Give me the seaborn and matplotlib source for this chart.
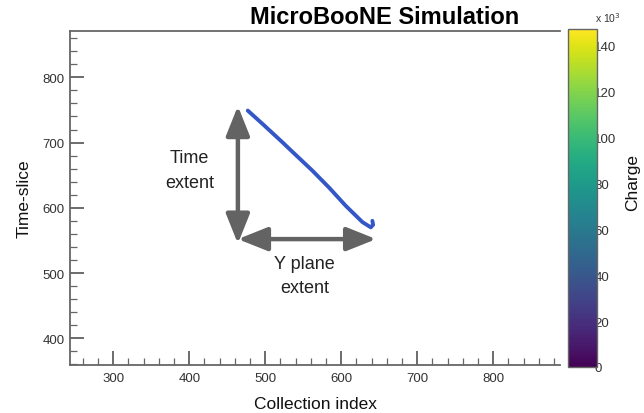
import numpy as np
import pandas as pd
import matplotlib
matplotlib.use("Agg")
import matplotlib.pyplot as plt
import seaborn as sns
from matplotlib.colors import Normalize
from matplotlib.colorbar import ColorbarBase
from matplotlib.ticker import MultipleLocator

# ---- data ----
track_x = [477, 497, 523, 532, 562, 584, 606, 628, 639, 642, 641]
track_y = [749, 728, 700, 690, 657, 631, 603, 578, 570, 574, 580]
x_ticks = [300, 400, 500, 600, 700, 800]
y_ticks = [400, 500, 600, 700, 800]
cbar_ticks = [0, 20, 40, 60, 80, 100, 120, 140]
time_arrow_x = [464, 464]
time_arrow_y = [756, 545]
yplane_arrow_x = [464, 646]
yplane_arrow_y = [552, 552]

sns.set_theme(style="white")
plt.rcParams['font.family'] = ['Liberation Sans', 'DejaVu Sans']

fig = plt.figure(figsize=(6.44, 4.14), dpi=100)
ax = fig.add_axes([70/644, 48/414, 490/644, 334/414])

df = pd.DataFrame({"x": track_x, "y": track_y})
sns.lineplot(data=df, x="x", y="y", sort=False, color="#3457c8", lw=2.8, ax=ax,
             estimator=None)

arrow_col = "#636363"
ax.annotate("", xy=(time_arrow_x[1], time_arrow_y[1]), xytext=(time_arrow_x[0], time_arrow_y[0]),
            arrowprops=dict(arrowstyle="<|-|>,head_length=1.5,head_width=0.6", color=arrow_col,
                            lw=3.2, shrinkA=0, shrinkB=0))
ax.annotate("", xy=(yplane_arrow_x[1], yplane_arrow_y[1]), xytext=(yplane_arrow_x[0], yplane_arrow_y[0]),
            arrowprops=dict(arrowstyle="<|-|>,head_length=1.5,head_width=0.6", color=arrow_col,
                            lw=3.2, shrinkA=0, shrinkB=0))

ax.text(400, 658, "Time\nextent", fontsize=13, color="#222222", ha="center", va="center",
        linespacing=1.55)
ax.text(552, 496, "Y plane\nextent", fontsize=13, color="#222222", ha="center", va="center",
        linespacing=1.55)

ax.set_xlim(243, 888)
ax.set_ylim(359, 871)
ax.set_xticks(x_ticks)
ax.set_yticks(y_ticks)
ax.xaxis.set_minor_locator(MultipleLocator(20))
ax.yaxis.set_minor_locator(MultipleLocator(20))
ax.tick_params(axis="both", which="major", direction="in", length=10, width=1.1,
               color="#444444", labelsize=9.5, labelcolor="#333333")
ax.tick_params(axis="both", which="minor", direction="in", length=5, width=0.9,
               color="#666666")
ax.tick_params(axis="x", which="both", bottom=True, top=False, pad=5)
ax.tick_params(axis="y", which="both", left=True, right=False, pad=4)
for s in ["left", "bottom", "top"]:
    ax.spines[s].set_color("#666666")
    ax.spines[s].set_linewidth(1.3)
ax.spines["right"].set_visible(False)

ax.set_xlabel("Collection index", fontsize=12.5, color="#111111", labelpad=9)
ax.set_ylabel("Time-slice", fontsize=12.5, color="#111111", labelpad=8)

fig.text(519/644, 1 - 17/414, "MicroBooNE Simulation", fontsize=17, fontweight="bold",
         ha="right", va="center", color="black")

cax = fig.add_axes([568/644, 46/414, 29/644, 338/414])
cb = ColorbarBase(cax, cmap="viridis", norm=Normalize(vmin=0, vmax=147), orientation="vertical")
cb.set_ticks(cbar_ticks)
cb.set_ticklabels([str(t) for t in cbar_ticks])
cax.tick_params(length=0, labelsize=9.5, labelcolor="#333333", pad=-2)
cb.outline.set_edgecolor("#666666")
cb.outline.set_linewidth(1.0)
fig.text(633/644, 1 - 183/414, "Charge", fontsize=12.5, color="#111111", rotation=90,
         ha="center", va="center")
fig.text(608/644, 1 - 18/414, "x 10$^{3}$", fontsize=7.5, ha="center", va="center",
         color="#333333")

fig.savefig("out.png", dpi=100)
